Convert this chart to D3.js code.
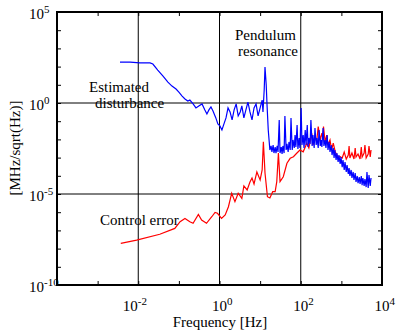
<!DOCTYPE html>
<html>
<head>
<meta charset="utf-8">
<script src="https://cdn.jsdelivr.net/npm/d3@7"></script>
<style>
  body { margin: 0; background: #fff; }
</style>
</head>
<body>
<div id="chart"></div>
<script>
// values, as decades: [log10(freq / Hz), log10(amplitude / MHz/sqrt(Hz))]
const disturbance = [
  [-2.45,2.25],[-2.20,2.25],[-1.96,2.20],[-1.71,2.20],[-1.64,2.14],[-1.52,1.81],[-1.39,1.48],[-1.27,1.15],
  [-1.17,0.93],[-1.07,0.77],[-1.00,0.60],[-0.92,0.38],[-0.85,0.22],[-0.78,0.11],[-0.73,0.16],[-0.65,-0.05],
  [-0.58,-0.27],[-0.51,-0.16],[-0.43,-0.05],[-0.36,-0.38],[-0.31,-0.60],[-0.26,-0.38],[-0.21,-0.22],[-0.16,-0.44],
  [-0.09,-0.82],[-0.04,-1.15],[0.01,-1.26],[0.06,-1.48],[0.11,-1.15],[0.16,-0.82],[0.21,-0.27],[0.26,-0.49],
  [0.31,-0.93],[0.36,-0.38],[0.41,-0.05],[0.46,-0.71],[0.51,-0.49],[0.55,-0.16],[0.60,-0.82],[0.65,-0.38],
  [0.70,0.05],[0.75,-0.49],[0.80,-0.93],[0.85,-0.27],[0.90,-0.05],[0.95,-0.71],[1.00,-0.27],[1.05,0.16],
  [1.07,-0.49],[1.10,0.71],[1.12,1.98],[1.15,0.99],[1.17,-0.11],[1.20,-1.48],
  [1.24,-2.58],[1.27,-2.36],[1.29,-2.69],[1.32,-2.31],[1.34,-2.75],[1.37,-2.42],[1.39,-2.75],[1.42,-2.36],
  [1.44,-2.69],[1.47,-0.93],[1.49,-2.75],[1.52,-2.42],[1.54,-2.80],[1.56,-2.36],[1.59,-2.75],[1.61,-0.71],
  [1.64,-2.58],[1.66,-2.25],[1.69,-2.69],[1.71,-2.14],[1.74,-2.58],[1.76,-0.82],[1.79,-2.58],[1.81,-2.03],
  [1.84,-2.47],[1.86,-1.76],[1.88,-2.42],[1.91,-1.21],[1.93,-2.53],[1.96,-1.92],[1.98,-2.47],[2.01,-0.27],
  [2.03,-2.31],[2.06,-1.76],[2.08,-2.47],
  [2.11,-1.48],[2.13,-2.31],[2.16,-1.21],[2.18,-2.42],[2.20,-1.92],[2.23,-2.25],[2.25,-0.93],[2.28,-2.36],
  [2.30,-1.76],[2.33,-2.47],[2.35,-1.37],[2.38,-2.31],[2.40,-1.92],[2.43,-2.47],[2.45,-1.48],[2.48,-2.36],
  [2.50,-2.03],[2.52,-2.42],[2.55,-1.37],[2.57,-2.36],[2.60,-2.03],[2.62,-2.47],[2.65,-1.76],[2.67,-2.58],
  [2.70,-2.14],[2.72,-2.69],[2.75,-2.31],[2.77,-2.86],[2.80,-2.47],[2.82,-3.02],[2.84,-2.58],[2.87,-3.13],
  [2.89,-2.75],[2.92,-3.24],[2.94,-2.86],[2.97,-3.35],[2.99,-2.97],[3.02,-3.52],[3.04,-3.13],[3.07,-3.68],
  [3.09,-3.24],[3.12,-3.79],[3.14,-3.41],[3.17,-3.90],[3.19,-3.57],[3.21,-4.01],[3.24,-3.68],[3.26,-4.12],
  [3.29,-3.79],[3.31,-4.23],[3.34,-3.85],[3.36,-4.34],[3.39,-4.01],[3.41,-4.40],[3.44,-4.07],[3.46,-4.45],
  [3.49,-4.01],[3.51,-4.51],[3.53,-4.12],[3.56,-4.56],[3.58,-4.18],[3.61,-4.62],[3.63,-3.79],[3.66,-4.67],
  [3.68,-3.96],[3.71,-4.56],[3.73,-4.12]
];

const controlError = [
  [-2.43,-7.71],[-2.04,-7.53],[-1.47,-7.21],[-1.10,-6.89],[-0.97,-6.52],[-0.85,-6.34],[-0.73,-6.52],[-0.65,-6.61],
  [-0.52,-6.12],[-0.44,-6.43],[-0.32,-6.61],[-0.19,-6.25],[-0.11,-6.01],[-0.05,-6.06],[0.05,-6.34],[0.14,-6.15],
  [0.22,-5.70],[0.30,-4.96],[0.38,-5.42],[0.46,-4.96],[0.55,-5.24],[0.60,-4.56],[0.68,-4.78],[0.75,-4.34],
  [0.80,-4.12],[0.85,-4.45],[0.92,-3.79],[1.00,-4.23],[1.05,-3.68],[1.08,-2.13],[1.12,-3.85],[1.18,-5.15],
  [1.24,-5.22],[1.31,-4.87],[1.37,-4.87],[1.41,-4.32],[1.45,-2.75],[1.49,-4.32],[1.57,-4.05],[1.66,-3.31],
  [1.74,-3.04],[1.82,-2.95],[1.90,-2.76],[1.98,-2.58],[2.06,-2.68],[2.15,-2.21],[2.20,-2.47],[2.27,-1.66],
  [2.30,-2.31],[2.35,-1.85],[2.39,-2.14],[2.43,-1.30],[2.48,-2.03],[2.52,-1.66],[2.54,-1.92],[2.56,-1.30],
  [2.60,-2.14],[2.64,-1.76],[2.67,-2.31],[2.72,-2.03],[2.76,-2.58],[2.80,-2.21],[2.85,-2.69],[2.92,-2.97],
  [2.97,-2.95],[3.02,-3.02],[3.07,-2.69],[3.12,-3.08],[3.17,-2.86],[3.19,-2.36],[3.21,-3.02],[3.26,-2.75],
  [3.31,-3.08],[3.34,-2.47],[3.36,-2.97],[3.41,-2.80],[3.46,-3.08],[3.49,-2.42],[3.51,-2.97],[3.56,-2.75],
  [3.58,-2.31],[3.61,-3.02],[3.66,-2.80],[3.68,-2.36],[3.71,-2.97],[3.73,-2.58]
];

const xLabelExp = [-2, 0, 2, 4];
const yLabelExp = [5, 0, -5, -10];
const xGridExp = [-2, 0, 2];
const yGridExp = [0, -5];

const notes = [
  { lines: ["Pendulum", "resonance"], x: [235, 238], y: [40, 56] },
  { lines: ["Estimated", "disturbance"], x: [89, 95], y: [92, 108] },
  { lines: ["Control error"], x: [100], y: [225] }
];

const serif = "'Liberation Serif', 'Times New Roman', 'DejaVu Serif', serif";
const width = 396, height = 335;
const margin = { top: 12, right: 14, bottom: 50, left: 57 };
const plotW = width - margin.left - margin.right;
const plotH = height - margin.top - margin.bottom;

const xScale = d3.scaleLog().domain([1e-4, 1e4]).range([margin.left, margin.left + plotW]);
const yScale = d3.scaleLog().domain([1e-10, 1e5]).range([margin.top + plotH, margin.top]);

const svg = d3.select("#chart").append("svg")
  .attr("width", width)
  .attr("height", height);

svg.append("rect").attr("width", width).attr("height", height).attr("fill", "#fff");

svg.append("clipPath").attr("id", "plotclip")
  .append("rect")
  .attr("x", margin.left).attr("y", margin.top)
  .attr("width", plotW).attr("height", plotH);

// grid lines
svg.append("g").selectAll("line").data(xGridExp).join("line")
  .attr("x1", d => xScale(10 ** d)).attr("x2", d => xScale(10 ** d))
  .attr("y1", margin.top).attr("y2", margin.top + plotH)
  .attr("stroke", "#000").attr("stroke-width", 1);

svg.append("g").selectAll("line").data(yGridExp).join("line")
  .attr("y1", d => yScale(10 ** d)).attr("y2", d => yScale(10 ** d))
  .attr("x1", margin.left).attr("x2", margin.left + plotW)
  .attr("stroke", "#000").attr("stroke-width", 1);

// traces
const line = d3.line()
  .x(d => xScale(10 ** d[0]))
  .y(d => yScale(10 ** d[1]));

const traces = svg.append("g").attr("clip-path", "url(#plotclip)");
traces.append("path").datum(controlError)
  .attr("d", line).attr("fill", "none").attr("stroke", "#ff0000").attr("stroke-width", 1.2);
traces.append("path").datum(disturbance)
  .attr("d", line).attr("fill", "none").attr("stroke", "#0000ff").attr("stroke-width", 1.2);

// ticks every decade, inside, on all four sides
const xDecades = d3.range(-4, 5).map(e => 10 ** e);
const yDecades = d3.range(-10, 6).map(e => 10 ** e);
const tickStyle = g => {
  g.select(".domain").remove();
  g.selectAll(".tick line").attr("stroke", "#000");
};
svg.append("g").attr("transform", `translate(0,${margin.top + plotH})`)
  .call(d3.axisBottom(xScale).tickValues(xDecades).tickSize(-4).tickFormat("")).call(tickStyle);
svg.append("g").attr("transform", `translate(0,${margin.top})`)
  .call(d3.axisTop(xScale).tickValues(xDecades).tickSize(-4).tickFormat("")).call(tickStyle);
svg.append("g").attr("transform", `translate(${margin.left},0)`)
  .call(d3.axisLeft(yScale).tickValues(yDecades).tickSize(-4).tickFormat("")).call(tickStyle);
svg.append("g").attr("transform", `translate(${margin.left + plotW},0)`)
  .call(d3.axisRight(yScale).tickValues(yDecades).tickSize(-4).tickFormat("")).call(tickStyle);

// frame
svg.append("rect")
  .attr("x", margin.left).attr("y", margin.top)
  .attr("width", plotW).attr("height", plotH)
  .attr("fill", "none").attr("stroke", "#000").attr("stroke-width", 2);

// tick labels 10^n
const power = (sel, e) => {
  sel.append("tspan").text("10");
  sel.append("tspan").attr("dy", -6).attr("font-size", 11).text(e < 0 ? "-" + (-e) : String(e));
};

svg.append("g").selectAll("text").data(xLabelExp).join("text")
  .attr("x", d => xScale(10 ** d) + (d < 0 ? -15.5 : -7.5))
  .attr("y", 311)
  .attr("font-family", serif)
  .attr("font-size", 15)
  .each(function (d) { power(d3.select(this), d); });

svg.append("g").selectAll("text").data(yLabelExp).join("text")
  .attr("x", 29)
  .attr("y", d => yScale(10 ** d) + 7)
  .attr("font-family", serif)
  .attr("font-size", 15)
  .each(function (d) { power(d3.select(this), d); });

// axis titles
svg.append("text")
  .attr("x", 220)
  .attr("y", 327)
  .attr("text-anchor", "middle")
  .attr("font-family", serif)
  .attr("font-size", 15)
  .text("Frequency [Hz]");

svg.append("text")
  .attr("transform", "translate(20,148) rotate(-90)")
  .attr("text-anchor", "middle")
  .attr("font-family", serif)
  .attr("font-size", 15)
  .text("[MHz/sqrt(Hz)]");

// annotations
notes.forEach(n => {
  n.lines.forEach((t, i) => {
    svg.append("text")
      .attr("x", n.x[i]).attr("y", n.y[i])
      .attr("font-family", serif)
      .attr("font-size", 15)
      .text(t);
  });
});
</script>
</body>
</html>
